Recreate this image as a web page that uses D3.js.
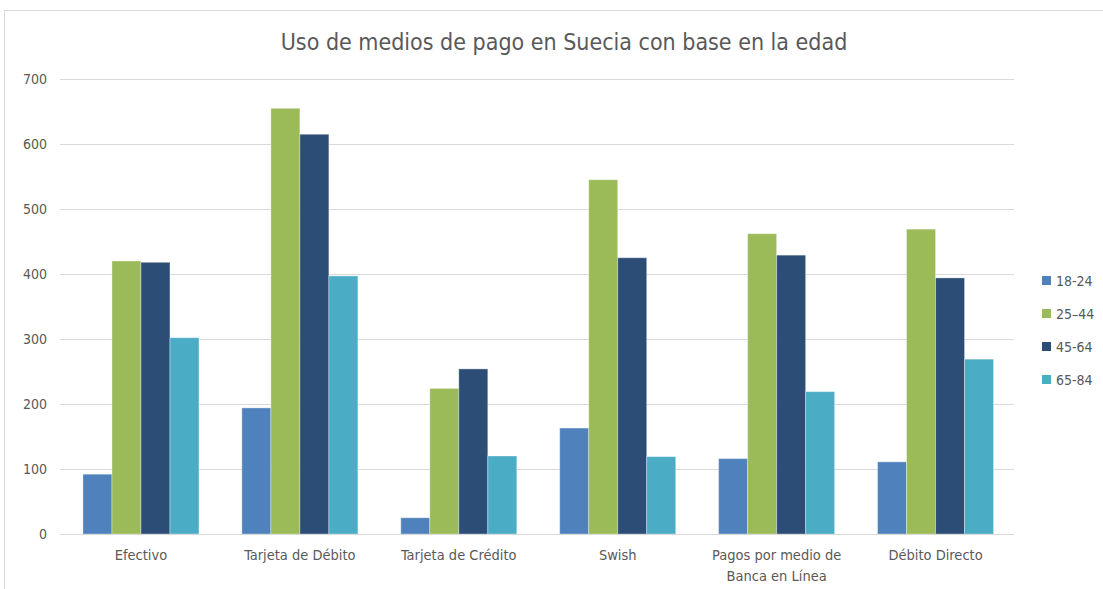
<!DOCTYPE html>
<html>
<head>
<meta charset="utf-8">
<script src="https://cdn.jsdelivr.net/npm/d3@7"></script>
<style>
  html, body { margin: 0; padding: 0; background: #fff; }
  svg { display: block; }
  text { font-family: "DejaVu Sans Condensed", "Open Sans", sans-serif; fill: #595959; }
</style>
</head>
<body>
<svg id="chart" width="1103" height="589"></svg>
<script>
// Payment methods and age groups
const categories = [
  ["Efectivo"],
  ["Tarjeta de Débito"],
  ["Tarjeta de Crédito"],
  ["Swish"],
  ["Pagos por medio de", "Banca en Línea"],
  ["Débito Directo"]
];
const seriesNames = ["18-24", "25\u201344", "45-64", "65-84"];
const seriesColors = ["#4F81BD", "#9BBB59", "#2C4D75", "#4BACC6"];

const age18_24 = [92, 194, 25, 163, 116, 111];
const age25_44 = [420, 655, 224, 545, 462, 469];
const age45_64 = [418, 615, 254, 425, 429, 394];
const age65_84 = [302, 397, 120, 119, 219, 269];
const series = [age18_24, age25_44, age45_64, age65_84];

const yTicks = [0, 100, 200, 300, 400, 500, 600, 700];

const svg = d3.select("#chart");
const W = 1103, H = 589;
const plot = { left: 60, right: 1014, top: 79, bottom: 534 };

// Outer chart frame
svg.append("rect")
  .attr("x", 4.5).attr("y", 10.5)
  .attr("width", W + 10).attr("height", H + 10)
  .attr("fill", "#fff").attr("stroke", "#d9d9d9").attr("stroke-width", 1);

// Title
svg.append("text")
  .attr("x", 564).attr("y", 50)
  .attr("text-anchor", "middle")
  .attr("font-size", 23)
  .text("Uso de medios de pago en Suecia con base en la edad");

const x0 = d3.scaleBand()
  .domain(d3.range(categories.length))
  .range([plot.left + 1.5, plot.right + 1])
  .paddingInner(0.27).paddingOuter(0.135);

const x1 = d3.scaleBand()
  .domain(d3.range(series.length))
  .range([0, x0.bandwidth()]);

const y = d3.scaleLinear().domain([0, 700]).range([plot.bottom, plot.top]);

// Gridlines and y tick labels
const yAxis = d3.axisLeft(y)
  .tickValues(yTicks)
  .tickSize(-(plot.right - plot.left))
  .tickPadding(13);
const gy = svg.append("g")
  .attr("transform", `translate(${plot.left},0)`)
  .call(yAxis);
gy.select(".domain").remove();
gy.selectAll(".tick line").attr("stroke", "#d9d9d9").attr("stroke-width", 1);
gy.selectAll(".tick text")
  .attr("font-size", 14)
  .attr("fill", "#595959")
  .style("font-family", "\"DejaVu Sans Condensed\", \"Open Sans\", sans-serif");

// Bars
series.forEach((vals, si) => {
  svg.append("g")
    .selectAll("rect")
    .data(vals)
    .join("rect")
    .attr("x", (d, i) => x0(i) + x1(si))
    .attr("y", d => y(d))
    .attr("width", x1.bandwidth())
    .attr("height", d => y(0) - y(d))
    .attr("fill", seriesColors[si])
    .attr("stroke", "rgba(255,255,255,0.35)")
    .attr("stroke-width", 1);
});

// Baseline
svg.append("line")
  .attr("x1", plot.left).attr("x2", plot.right)
  .attr("y1", y(0) + 0.5).attr("y2", y(0) + 0.5)
  .attr("stroke", "#d9d9d9");

// Category labels
const xLabels = svg.append("g");
categories.forEach((lines, i) => {
  const cx = x0(i) + x0.bandwidth() / 2;
  const t = xLabels.append("text")
    .attr("x", cx)
    .attr("y", 560)
    .attr("text-anchor", "middle")
    .attr("font-size", 14.5);
  lines.forEach((ln, k) => {
    t.append("tspan")
      .attr("x", cx)
      .attr("dy", k === 0 ? 0 : 21)
      .text(ln);
  });
});

// Legend
const legend = svg.append("g").attr("transform", "translate(1042,281)");
seriesNames.forEach((name, i) => {
  const g = legend.append("g").attr("transform", `translate(0,${i * 33})`);
  g.append("rect").attr("x", 0).attr("y", -5).attr("width", 9).attr("height", 9)
    .attr("fill", seriesColors[i]);
  g.append("text").attr("x", 14).attr("y", 5).attr("font-size", 14).text(name);
});
</script>
</body>
</html>
